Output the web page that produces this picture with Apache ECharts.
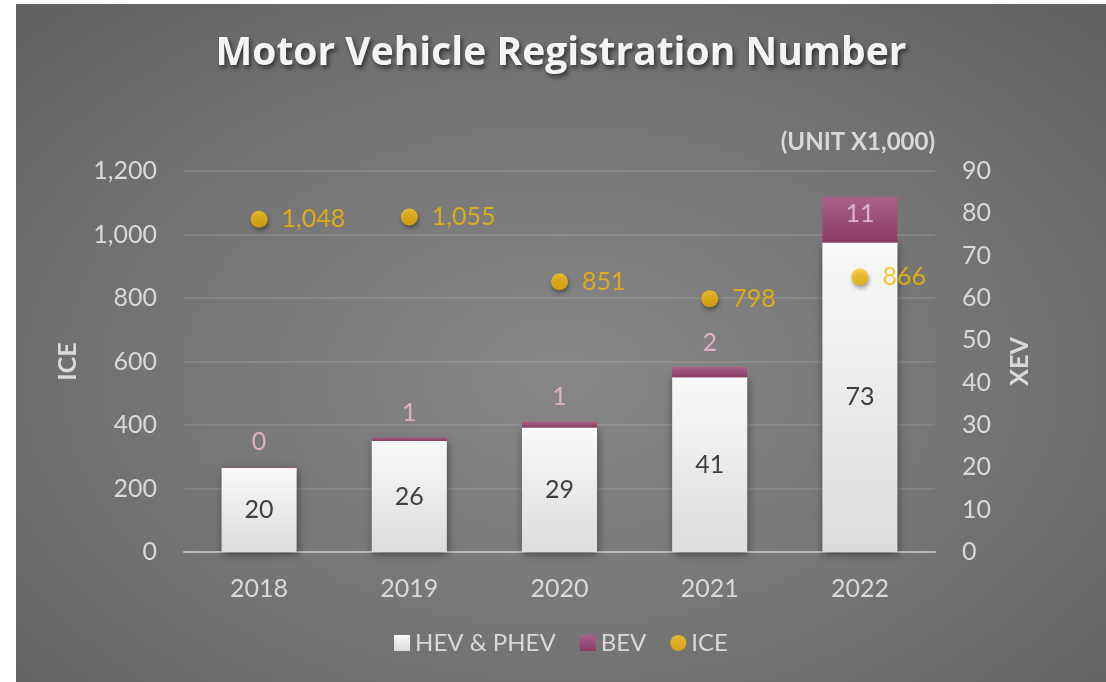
<!DOCTYPE html>
<html>
<head>
<meta charset="utf-8">
<script src="https://cdn.jsdelivr.net/npm/echarts@6/dist/echarts.min.js"></script>
<style>
  html, body { margin: 0; padding: 0; background: #fff; }
  #chart {
    position: absolute; left: 16px; top: 4px; width: 1090px; height: 678px;
    background: radial-gradient(ellipse 75% 80% at 50% 55%, #878787 0%, #777777 45%, #5f5f5f 100%);
  }
</style>
</head>
<body>
<div id="chart"></div>
<script>
const years = ['2018', '2019', '2020', '2021', '2022'];
const hevPhev = [19.9, 26.2, 29.4, 41.3, 73.1];
const bev = [0.2, 0.9, 1.4, 2.4, 10.8];
const ice = [1048, 1055, 851, 798, 866];
const iceTicks = { min: 0, max: 1200, interval: 200 };
const xevTicks = { min: 0, max: 90, interval: 10 };

const font = 'Lato, "Open Sans", sans-serif';
const labelGray = '#d9d9d9';

const axisLabel = {
  color: labelGray,
  fontSize: 25,
  fontFamily: font,
  margin: 27
};
const axisName = {
  color: labelGray,
  fontSize: 25,
  fontWeight: 'bold',
  fontFamily: font
};

const chart = echarts.init(document.getElementById('chart'), null, { renderer: 'canvas' });
const option = {
  backgroundColor: 'transparent',
  animation: false,
  title: {
    text: 'Motor Vehicle Registration Number',
    left: 'center',
    top: 25,
    textStyle: {
      color: '#f4f4f4',
      fontSize: 39,
      fontWeight: 'bold',
      fontFamily: '"Open Sans", Lato, sans-serif',
      textShadowColor: 'rgba(0,0,0,0.55)',
      textShadowBlur: 4,
      textShadowOffsetX: 2,
      textShadowOffsetY: 3
    }
  },
  graphic: [{
    type: 'text',
    x: 919,
    y: 138,
    style: {
      text: '(UNIT X1,000)',
      align: 'right',
      verticalAlign: 'middle',
      fill: labelGray,
      font: 'bold 24px ' + font
    }
  }],
  legend: {
    data: [
      { name: 'HEV & PHEV', icon: 'rect' },
      { name: 'BEV', icon: 'rect' },
      { name: 'ICE', icon: 'circle' }
    ],
    left: 'center',
    top: 622,
    itemWidth: 16,
    itemHeight: 16,
    itemGap: 24,
    textStyle: { color: labelGray, fontSize: 24, fontFamily: font }
  },
  grid: {
    left: 168,
    right: 171,
    top: 167,
    bottom: 130
  },
  xAxis: {
    type: 'category',
    data: years,
    axisLine: { lineStyle: { color: '#bdbdbd', width: 2 } },
    axisTick: { show: false },
    axisLabel: { ...axisLabel, margin: 24 }
  },
  yAxis: [
    {
      type: 'value',
      name: 'ICE',
      nameLocation: 'middle',
      nameGap: 104,
      nameTextStyle: axisName,
      ...iceTicks,
      axisLine: { show: false },
      axisTick: { show: false },
      axisLabel: { ...axisLabel, formatter: v => v.toLocaleString('en-US') },
      splitLine: { lineStyle: { color: 'rgba(255,255,255,0.14)', width: 1.5 } }
    },
    {
      type: 'value',
      name: 'XEV',
      nameLocation: 'middle',
      nameGap: 72,
      nameTextStyle: axisName,
      ...xevTicks,
      axisLine: { show: false },
      axisTick: { show: false },
      axisLabel: axisLabel,
      splitLine: { show: false }
    }
  ],
  series: [
    {
      name: 'HEV & PHEV',
      type: 'bar',
      yAxisIndex: 1,
      stack: 'xev',
      barWidth: '50%',
      itemStyle: {
        color: new echarts.graphic.LinearGradient(0, 0, 0, 1, [
          { offset: 0, color: '#f9f9f9' },
          { offset: 1, color: '#dcdcdc' }
        ]),
        shadowColor: 'rgba(0,0,0,0.45)',
        shadowBlur: 8,
        shadowOffsetX: 1,
        shadowOffsetY: 2
      },
      label: {
        show: true,
        position: 'inside',
        color: '#404040',
        fontSize: 25,
        fontFamily: font,
        formatter: p => Math.round(p.value)
      },
      data: hevPhev
    },
    {
      name: 'BEV',
      type: 'bar',
      yAxisIndex: 1,
      stack: 'xev',
      barWidth: '50%',
      itemStyle: {
        color: new echarts.graphic.LinearGradient(0, 0, 0, 1, [
          { offset: 0, color: '#a8628a' },
          { offset: 1, color: '#8a3a63' }
        ])
      },
      label: {
        show: true,
        position: 'top',
        distance: 12,
        color: '#dcb0c8',
        fontSize: 25,
        fontFamily: font,
        formatter: p => Math.round(p.value)
      },
      data: bev.map((v, i) => i === bev.length - 1
        ? { value: v, label: { position: 'insideTop', distance: 5 } }
        : v)
    },
    {
      name: 'ICE',
      type: 'scatter',
      yAxisIndex: 0,
      symbol: 'circle',
      symbolSize: 17,
      itemStyle: {
        color: new echarts.graphic.LinearGradient(0, 0, 0, 1, [
          { offset: 0, color: '#ffc81a' },
          { offset: 1, color: '#f0ae00' }
        ]),
        shadowColor: 'rgba(0,0,0,0.45)',
        shadowBlur: 4,
        shadowOffsetX: 1,
        shadowOffsetY: 3
      },
      label: {
        show: true,
        position: 'right',
        distance: 14,
        color: '#f5b800',
        fontSize: 25,
        fontFamily: font,
        formatter: p => p.value.toLocaleString('en-US')
      },
      data: ice
    }
  ]
};
chart.setOption(option);
</script>
</body>
</html>
